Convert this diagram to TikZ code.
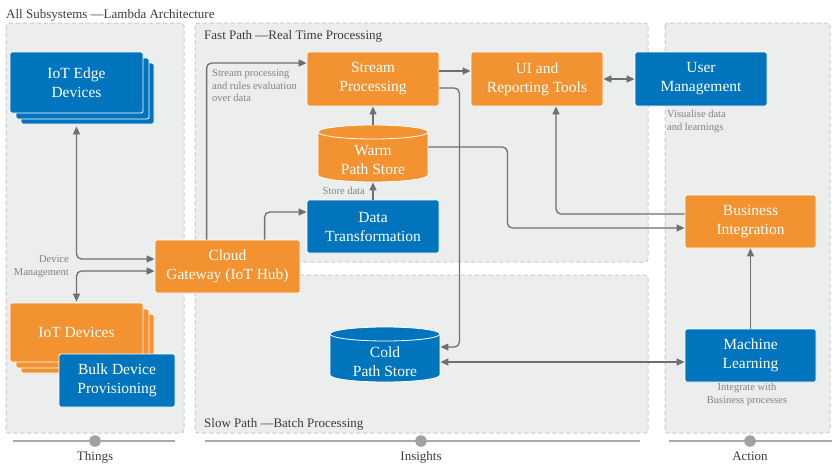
\documentclass[tikz,border=0pt]{standalone}
\usepackage{fontspec}
\setmainfont{Liberation Serif}
\usetikzlibrary{arrows.meta,calc}
\definecolor{org}{HTML}{F39230}
\definecolor{blu}{HTML}{0075BE}
\definecolor{pan}{HTML}{ECEDED}
\definecolor{pbd}{HTML}{C8C9CA}
\definecolor{con}{HTML}{6E6F72}
\definecolor{stx}{HTML}{808285}
\definecolor{ttx}{HTML}{3C3C3C}
\definecolor{axl}{HTML}{A7A9AC}
\begin{document}
\begin{tikzpicture}[x=1pt,y=-1pt,
  panel/.style={fill=pan,draw=pbd,line width=1pt,rounded corners=3pt,dash pattern=on 4pt off 3pt},
  box/.style={draw=white,line width=0.8pt,rounded corners=2pt,text=white,font=\fontsize{15.5}{19}\selectfont,align=center,inner sep=0pt},
  obox/.style={box,fill=org},
  bbox/.style={box,fill=blu},
  cyltext/.style={box,draw=none},
  tip/.tip={Triangle[length=8pt,width=7pt]},
  arr/.style={draw=con,line width=1.3pt,rounded corners=5pt,-tip},
  darr/.style={draw=con,line width=1.3pt,rounded corners=5pt,tip-tip},
  small/.style={text=stx,font=\fontsize{10.5}{12.2}\selectfont,inner sep=0pt},
  title/.style={text=ttx,font=\fontsize{13}{15}\selectfont,inner sep=0pt},
  axis/.style={draw=axl,line width=1.2pt},
  dot/.style={fill=axl!95!black}
]
\useasboundingbox (0,0) rectangle (834,463);

% panels
\draw[panel] (6,23) rectangle (184,433);
\draw[panel] (195,23) rectangle (648,262);
\draw[panel] (195,275) rectangle (648,433);
\draw[panel] (665,23) rectangle (830,433);

% titles
\node[title,anchor=base west] (ttl) at (6,18) {All Subsystems —Lambda Architecture};
\node[title,anchor=base west] (fast) at (204,39) {Fast Path —Real Time Processing};
\node[title,anchor=base west] (slow) at (204,427) {Slow Path —Batch Processing};

% axes
\draw[axis] (13,441) -- (175,441);
\draw[axis] (205,441) -- (640,441);
\draw[axis] (669,441) -- (832,441);
\fill[dot] (95,441) circle (5.8pt);
\fill[dot] (421,441) circle (5.8pt);
\fill[dot] (750,441) circle (5.8pt);
\node[title,anchor=base] (things) at (95,460) {Things};
\node[title,anchor=base] (insights) at (421,460) {Insights};
\node[title,anchor=base] (action) at (750,460) {Action};

% IoT Edge Devices stack
\draw[fill=blu,draw=white,line width=0.8pt,rounded corners=2pt] (21,63) rectangle (154,124);
\draw[fill=blu,draw=white,line width=0.8pt,rounded corners=2pt] (16,58) rectangle (149,119);
\node[bbox,minimum width=133pt,minimum height=61pt] (edge) at (76.5,82.5) {IoT Edge\\Devices};

% IoT Devices stack
\draw[fill=org,draw=white,line width=0.8pt,rounded corners=2pt] (21,314) rectangle (154,373);
\draw[fill=org,draw=white,line width=0.8pt,rounded corners=2pt] (16,309) rectangle (149,368);
\node[obox,minimum width=133pt,minimum height=59pt] (iot) at (76.5,332.5) {IoT Devices};
\node[bbox,minimum width=116pt,minimum height=53pt] (bulk) at (117,380.5) {Bulk Device\\Provisioning};

% main boxes
\node[obox,minimum width=145pt,minimum height=53pt] (gw) at (227.5,266.5) {Cloud\\Gateway (IoT Hub)};
\node[obox,minimum width=132pt,minimum height=54pt] (stream) at (373,79) {Stream\\Processing};
\node[obox,minimum width=132pt,minimum height=54pt] (ui) at (537,79) {UI and\\Reporting Tools};
\node[bbox,minimum width=132pt,minimum height=54pt] (user) at (701,79) {User\\Management};
\node[bbox,minimum width=132pt,minimum height=53pt] (dt) at (373,226.5) {Data\\Transformation};
\node[obox,minimum width=131pt,minimum height=53pt] (bi) at (750.5,221.5) {Business\\Integration};
\node[bbox,minimum width=131pt,minimum height=53pt] (ml) at (750.5,355.5) {Machine\\Learning};

% Warm cylinder
\fill[org] (318,132) rectangle (428,175);
\fill[org] (373,175) ellipse [x radius=55pt, y radius=7pt];
\draw[white,line width=0.8pt] (318,132) -- (318,175) arc[start angle=180,end angle=360,x radius=55pt,y radius=7pt] -- (428,132);
\draw[fill=org,draw=white,line width=0.8pt] (373,132) ellipse [x radius=55pt, y radius=7pt];
\node[cyltext,minimum width=110pt,minimum height=57pt] (warm) at (373,153.5) {};
\node[cyltext] (warmt) at (373,160) {Warm\\Path Store};

% Cold cylinder
\fill[blu] (330,334) rectangle (440,375);
\fill[blu] (385,375) ellipse [x radius=55pt, y radius=7pt];
\draw[white,line width=0.8pt] (330,334) -- (330,375) arc[start angle=180,end angle=360,x radius=55pt,y radius=7pt] -- (440,334);
\draw[fill=blu,draw=white,line width=0.8pt] (385,334) ellipse [x radius=55pt, y radius=7pt];
\node[cyltext,minimum width=110pt,minimum height=55pt] (cold) at (385,354.5) {};
\node[cyltext] (coldt) at (385,362) {Cold\\Path Store};

% small labels
\node[small,anchor=north west,align=left] (lsp) at (212,69.7) {Stream processing\\and rules evaluation\\over data};
\node[small,anchor=north east,align=right] (ldm) at (69,255.7) {Device\\Management};
\node[small,anchor=north west,align=left] (lvd) at (667,110.5) {Visualise data\\and learnings};
\node[small,anchor=base east] (lsd) at (365,194) {Store data};
\node[small,anchor=north,align=center,font=\fontsize{10.5}{13}\selectfont] (lib) at (747,382.7) {Integrate with\\Business processes};

% connectors
\draw[darr] ($(gw.west)+(0,-7.5)$) -| ($(edge.south)+(0,13)$);
\draw[darr] ($(gw.west)+(0,4.5)$) -| ($(iot.north)+(0,-1)$);
\draw[arr] ($(gw.north west)+(52,0)$) |- ($(stream.west)+(0,-16)$);
\draw[arr] ($(gw.north west)+(110,0)$) |- ($(dt.west)+(0,-14.5)$);
\draw[arr] (dt.north) -- (warm.south);
\draw[arr] (warm.north) -- (stream.south);
\draw[arr] ($(stream.east)+(0,-8)$) -- ($(ui.west)+(0,-8)$);
\draw[arr] ($(stream.east)+(0,9)$) -- ++(20,0) |- ($(cold.east)+(0,-7.5)$);
\draw[darr] (ui.east) -- (user.west);
\draw[arr] ($(warm.east)+(0,-6.5)$) -- ++(79,0) |- ($(bi.west)+(0,6.5)$);
\draw[arr] ($(bi.west)+(0,-7.5)$) -| ($(ui.south)+(19,0)$);
\draw[darr] ($(cold.east)+(0,7.5)$) -- ($(ml.west)+(0,6.5)$);
\draw[arr] (ml.north) -- (bi.south);
\end{tikzpicture}
\end{document}
